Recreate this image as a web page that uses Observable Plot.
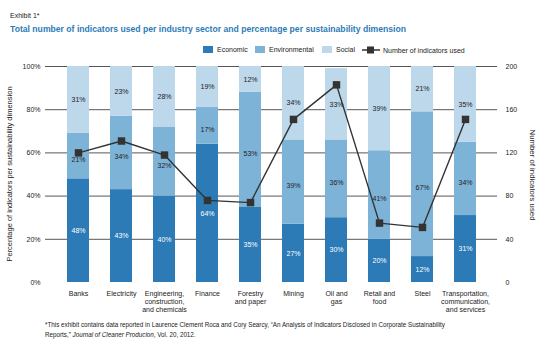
<!DOCTYPE html>
<html><head><meta charset="utf-8">
<script src="https://cdn.jsdelivr.net/npm/d3@7"></script>
<script src="https://cdn.jsdelivr.net/npm/@observablehq/plot@0.6"></script>
<style>
body{margin:0;background:#fff;font-family:"Liberation Sans",Arial,sans-serif;}
#wrap{position:relative;width:550px;height:351px;overflow:hidden;}
.abs{position:absolute;white-space:nowrap;}
#exhibit{left:10px;top:12px;font-size:7px;color:#222;}
#title{left:10px;top:23px;font-size:9.5px;font-weight:bold;color:#2d7bb8;transform-origin:0 0;}
.leg{position:absolute;top:46px;font-size:7px;color:#222;display:flex;align-items:center;}
.sw{display:inline-block;width:10px;height:7px;margin-right:4px;}
#chart{position:absolute;left:0;top:58px;}
#foot{left:45px;top:320px;font-size:6.8px;color:#222;line-height:10px;transform-origin:0 0;}
</style></head>
<body><div id="wrap">
<div id="exhibit" class="abs">Exhibit 1*</div>
<div id="title" class="abs">Total number of indicators used per industry sector and percentage per sustainability dimension</div>
<div id="legend"></div>
<div id="chart"></div>
<div id="foot" class="abs">*This exhibit contains data reported in Laurence Clement Roca and Cory Searcy, “An Analysis of Indicators Disclosed in Corporate Sustainability<br>Reports,” <i>Journal of Cleaner Producion</i>, Vol. 20, 2012.</div>
</div>
<script>
const sectors = ["Banks","Electricity","Engineering,\nconstruction,\nand chemicals","Finance","Forestry\nand paper","Mining","Oil and\ngas","Retail and\nfood","Steel","Transportation,\ncommunication,\nand services"];
const dimensions = ["Economic","Environmental","Social"];
const economic =      [48,43,40,64,35,27,30,20,12,31];
const environmental = [21,34,32,17,53,39,36,41,67,34];
const social =        [31,23,28,19,12,34,33,39,21,35];
const indicators =    [120,131,118,76,74,151,183,55,51,151];
const leftTicks = [0,20,40,60,80,100];
const rightTicks = [0,40,80,120,160,200];
const colors = ["#2c7bb6","#7eb3d8","#bdd7eb"];
const labelColors = ["white","#222","#222"];
const lineColor = "#333333";

const series = [economic, environmental, social];
const bars = [];
sectors.forEach((s,i) => dimensions.forEach((d,j) => bars.push({sector:s, dim:d, value:series[j][i]})));
const counts = sectors.map((s,i) => ({sector:s, count:indicators[i]}));
const toPct = c => c / 200 * 100;

// legend
const legend = document.getElementById("legend");
const legPos = [203,255,322];
dimensions.forEach((d,j) => {
  const el = document.createElement("div");
  el.className = "leg"; el.style.left = legPos[j] + "px";
  el.innerHTML = `<span class="sw" style="background:${colors[j]}"></span>${d}`;
  legend.appendChild(el);
});
const ll = document.createElement("div");
ll.className = "leg"; ll.style.left = "362px";
ll.innerHTML = `<svg width="18" height="8" style="margin-right:3px"><line x1="0" x2="18" y1="4" y2="4" stroke="${lineColor}" stroke-width="1.5"/><rect x="5" y="0.5" width="7" height="7" fill="${lineColor}"/></svg>Number of indicators used`;
legend.appendChild(ll);

const labelMarks = dimensions.map((dim, j) =>
  Plot.text(bars, Plot.stackY({x: "sector", y: "value", z: "dim", order: dimensions,
    text: d => d.dim === dim ? d.value + "%" : null, fill: labelColors[j], fontSize: 7,
    dy: dim === "Environmental" ? 4 : 0})));

const chart = Plot.plot({
  width: 550, height: 260,
  marginTop: 8, marginBottom: 36, marginLeft: 45, marginRight: 53,
  style: {fontFamily: "'Liberation Sans', Arial, sans-serif", fontSize: "7px", color: "#222", background: "transparent"},
  x: {domain: sectors, padding: 0.5, label: null},
  y: {domain: [0,100], label: null},
  color: {domain: dimensions, range: colors},
  marks: [
    Plot.ruleY(leftTicks.filter(t => t > 0), {stroke: "#444", strokeWidth: 0.9}),
    Plot.barY(bars, Plot.stackY({x: "sector", y: "value", fill: "dim", order: dimensions})),
    ...labelMarks,
    Plot.line(counts, {x: "sector", y: d => toPct(d.count), stroke: lineColor, strokeWidth: 1.4}),
    Plot.dot(counts, {x: "sector", y: d => toPct(d.count), symbol: "square", r: 4.2, fill: lineColor}),
    Plot.axisX({tickSize: 0, tickPadding: 8, lineHeight: 1.15, fontSize: 7}),
    Plot.axisY(leftTicks, {anchor: "left", tickSize: 0, tickPadding: 5, tickFormat: d => d + "%", fontSize: 7}),
    Plot.axisY(rightTicks.map(toPct), {anchor: "right", tickSize: 0, tickPadding: 8, tickFormat: d => String(Math.round(d * 2)), fontSize: 7, textAnchor: "start"})
  ]
});
document.getElementById("chart").appendChild(chart);

// axis titles as SVG text
const svg = d3.select(chart);
svg.append("text").attr("transform","translate(12,116) rotate(-90)").attr("text-anchor","middle")
  .attr("font-size",7.5).attr("fill","#222").text("Percentage of indicators per sustainability dimension");
svg.append("text").attr("transform","translate(530,117) rotate(90)").attr("text-anchor","middle")
  .attr("font-size",7.8).attr("fill","#222").text("Number of indicators used");

// fit title width
const t = document.getElementById("title");
const tw = t.getBoundingClientRect().width;
t.style.transform = `scaleX(${396/tw})`;
const f = document.getElementById("foot");
const fw = f.getBoundingClientRect().width;
f.style.transform = `scaleX(${400/fw})`;
</script>
</body></html>
